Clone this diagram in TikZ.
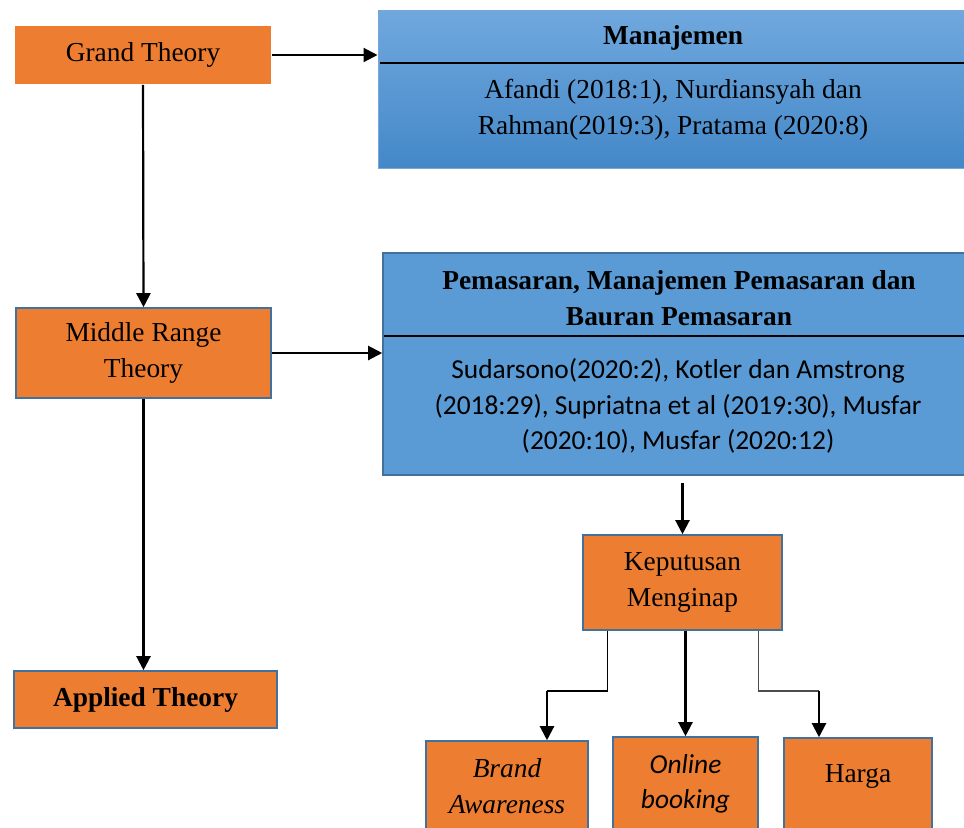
\documentclass[tikz,border=0pt]{standalone}
\usepackage{fontspec}
\setmainfont{Liberation Serif}
\newfontfamily\calibri{Carlito}
\usetikzlibrary{arrows.meta,calc}
\definecolor{orng}{HTML}{ED7D31}
\definecolor{bluef}{HTML}{5B9BD5}
\definecolor{blued}{HTML}{41719C}
\definecolor{bluetop}{RGB}{112,168,222}
\definecolor{bluebot}{RGB}{68,136,200}
\definecolor{blueedge}{RGB}{120,168,218}
\begin{document}
\begin{tikzpicture}[x=0.5pt,y=-0.5pt,
  fnt/.style={font=\fontsize{13.7}{17.8}\selectfont},
  box/.style={rectangle, fill=orng, draw=blued, line width=0.8pt, inner sep=0pt, align=center, fnt},
  txt/.style={inner sep=0pt, align=center, fnt},
  arr/.style={-{Triangle[length=7pt,width=7pt]}, line width=1.1pt},
  thinln/.style={line width=0.55pt}
]
\useasboundingbox (0,0) rectangle (964,827);

% left column
\node[box, draw=none, minimum width=128pt, minimum height=29pt] (gt) at (143,55) {Grand Theory};
\node[box, minimum width=127.5pt, minimum height=45pt] (mr) at (143.5,353) {Middle Range\\Theory};
\node[box, minimum width=131.5pt, minimum height=28.5pt, font=\fontsize{13.7}{17.8}\selectfont\bfseries] (at) at (145.5,699.5) {Applied Theory};

% blue box 1
\node[rectangle, inner sep=0pt, draw=blueedge, line width=0.5pt, top color=bluetop, bottom color=bluebot,
      minimum width=295pt, minimum height=79pt] (m1) at (673,89) {};
\draw[line width=0.6pt] (380,63) -- (968,63);
\node[txt, font=\fontsize{13.7}{17.8}\selectfont\bfseries] (m1t) at (673,38) {Manajemen};
\node[txt] (m1b) at (673,110) {Afandi (2018:1), Nurdiansyah dan\\Rahman(2019:3), Pratama (2020:8)};

% blue box 2
\node[rectangle, inner sep=0pt, fill=bluef, draw=blued, line width=0.8pt,
      minimum width=292.5pt, minimum height=111pt] (m2) at (675.5,364) {};
\draw[line width=0.6pt] (384,336) -- (968,336);
\node[txt, font=\fontsize{13.7}{17.8}\selectfont\bfseries] (m2t) at (679,298) {Pemasaran, Manajemen Pemasaran dan\\Bauran Pemasaran};
\node[txt, font=\fontsize{13.7}{17.8}\calibri] (m2b) at (678,406) {Sudarsono(2020:2), Kotler dan Amstrong\\(2018:29), Supriatna et al (2019:30), Musfar\\(2020:10), Musfar (2020:12)};

% Keputusan
\node[box, minimum width=99.5pt, minimum height=47.5pt] (kp) at (682.5,582.5) {Keputusan\\Menginap};

% bottom boxes
\node[box, minimum width=81pt, minimum height=100pt] (ba) at (507,841) {};
\node[txt, font=\fontsize{13.7}{17.8}\selectfont\itshape] (bat) at (507,786) {Brand\\Awareness};
\node[box, minimum width=72.5pt, minimum height=104pt] (ob) at (685.5,841) {};
\node[txt, font=\fontsize{13.7}{17.8}\calibri\itshape] (obt) at (685.5,784) {Online\\booking};
\node[box, minimum width=74pt, minimum height=103pt] (hg) at (858,841) {};
\node[txt] (hgt) at (858,776) {Harga};

% connectors
\draw[arr] (gt.east) -- (gt.east -| m1.west);
\draw[arr] (gt.south) -- (mr.north);
\draw[arr] (mr.east) -- (mr.east -| m2.west);
\draw[arr] (mr.south) -- (mr.south |- at.north);
\draw[arr] ($(kp.north |- m2.south)+(0,7)$) -- (kp.north);

\coordinate (kl) at ($(kp.south west)+(25,0)$);
\coordinate (kr) at ($(kp.south east)+(-24,0)$);
\coordinate (bl) at (547,691);
\coordinate (br) at (819,691);
\draw[thinln] (kl) |- (bl);
\draw[arr] (bl) -- (bl |- ba.north);
\draw[arr] (ob.north |- kp.south) -- (ob.north);
\draw[thinln, draw=black!70] (kr) |- (br);
\draw[arr] (br) -- (br |- hg.north);
\end{tikzpicture}
\end{document}
